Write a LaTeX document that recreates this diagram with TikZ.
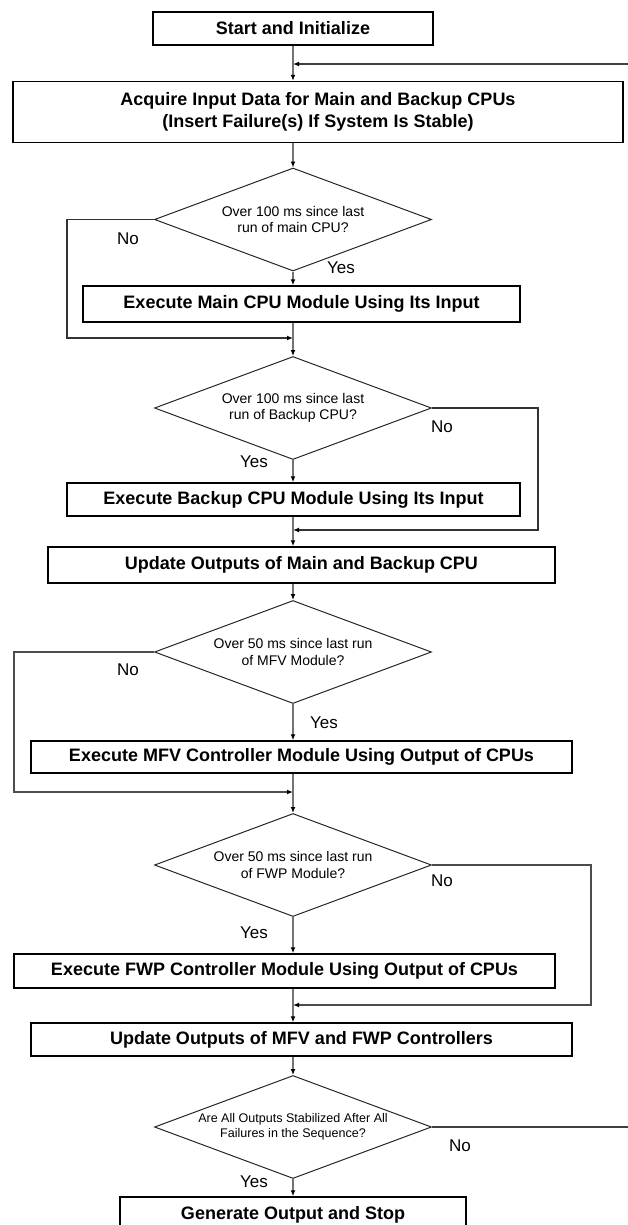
\documentclass[tikz,border=0pt]{standalone}
\usepackage{fontspec}
\setmainfont{Liberation Sans}
\usetikzlibrary{shapes.geometric,arrows.meta,calc}

\tikzset{
  procbox/.style={draw=black, line width=1.1pt, rectangle, inner sep=0pt,
    font=\fontsize{13.5}{16.5}\selectfont\bfseries, align=center},
  checkbox/.style={draw=black!85, line width=0.75pt, diamond, aspect=2.69, inner sep=0pt,
    minimum width=207.75pt, minimum height=77.25pt,
    font=\fontsize{10.5}{12.5}\selectfont, align=center},
  flow/.style={draw=black!55, line width=1.1pt,
    -{Latex[length=4.5pt,width=3.6pt,color=black]}},
  answer/.style={font=\fontsize{12.75}{14}\selectfont, inner sep=0pt},
}

\begin{document}
\begin{tikzpicture}[x=0.75pt,y=0.75pt,yscale=-1,xscale=1]
        \useasboundingbox (0,0) rectangle (628,1225);
        % Process boxes
        \node[procbox, minimum width=210pt, minimum height=24.75pt] (start) at (293,28.5) {Start and Initialize};
        \node[procbox, minimum width=457.5pt, minimum height=45.75pt] (acquire) at (318,112)
            {Acquire Input Data for Main and Backup CPUs\\(Insert Failure(s) If System Is Stable)};
        \node[procbox, minimum width=327.75pt, minimum height=27pt] (execmain) at (301.5,304) {Execute Main CPU Module Using Its Input};
        \node[procbox, minimum width=339.75pt, minimum height=24.75pt] (execbackup) at (293.5,499.5) {Execute Backup CPU Module Using Its Input};
        \node[procbox, minimum width=380.25pt, minimum height=27pt] (updcpu) at (301.5,565) {Update Outputs of Main and Backup CPU};
        \node[procbox, minimum width=405.75pt, minimum height=24pt] (execmfv) at (301.5,757) {Execute MFV Controller Module Using Output of CPUs};
        \node[procbox, minimum width=405.75pt, minimum height=25.5pt] (execfwp) at (284.5,971) {Execute FWP Controller Module Using Output of CPUs};
        \node[procbox, minimum width=405.75pt, minimum height=24.75pt] (updctrl) at (301.5,1039.5) {Update Outputs of MFV and FWP Controllers};
        \node[procbox, minimum width=259.5pt, minimum height=27pt] (stop) at (293,1215) {Generate Output and Stop};
        % Decisions
        \node[checkbox] (d1) at (293,219.5) {Over 100 ms since last\\run of main CPU?};
        \node[checkbox] (d2) at (293,408) {Over 100 ms since last\\run of Backup CPU?};
        \node[checkbox] (d3) at (293,652) {Over 50 ms since last run\\of MFV Module?};
        \node[checkbox] (d4) at (293,865) {Over 50 ms since last run\\of FWP Module?};
        \node[checkbox, font=\fontsize{9.4}{11}\selectfont] (d5) at (293,1127) {Are All Outputs Stabilized After All\\Failures in the Sequence?};
        % Join points
        \coordinate (fb) at (293,64);
        \coordinate (m1) at (293,338);
        \coordinate (m2) at (293,530);
        \coordinate (m3) at (293,792);
        \coordinate (m4) at (293,1005);
        \coordinate (c1) at (67,338);
        \coordinate (c2) at (538,530);
        \coordinate (c3) at (14,792);
        \coordinate (c4) at (591,1005);
        \coordinate (c5) at (640,64);
        % Main line
        \draw[flow] (start.south) -- (start.south |- acquire.north);
        \draw[flow] (d1.north |- acquire.south) -- (d1.north);
        \draw[flow] (d1.south) -- (d1.south |- execmain.north);
        \draw[flow] (d1.south |- execmain.south) -- (d2.north);
        \draw[flow] (d2.south) -- (d2.south |- execbackup.north);
        \draw[flow] (d2.south |- execbackup.south) -- (d2.south |- updcpu.north);
        \draw[flow] (d3.north |- updcpu.south) -- (d3.north);
        \draw[flow] (d3.south) -- (d3.south |- execmfv.north);
        \draw[flow] (d3.south |- execmfv.south) -- (d4.north);
        \draw[flow] (d4.south) -- (d4.south |- execfwp.north);
        \draw[flow] (d4.south |- execfwp.south) -- (d4.south |- updctrl.north);
        \draw[flow] (d5.north |- updctrl.south) -- (d5.north);
        \draw[flow] (d5.south) -- (d5.south |- stop.north);
        % Skip loops
        \draw[flow, draw=black!80] (d1.west) -| (c1) -- (m1);
        \draw[flow, draw=black!80] (d2.east) -| (c2) -- (m2);
        \draw[flow, draw=black!70] (d3.west) -| (c3) -- (m3);
        \draw[flow, draw=black!70] (d4.east) -| (c4) -- (m4);
        \draw[flow, draw=black!75] (d5.east) -| (c5) -- (fb);
        % Text Node
        \node[answer] (no1) at (128,239) {No};
        \node[answer] (yes1) at (341,268) {Yes};
        \node[answer] (no2) at (442,427) {No};
        \node[answer] (yes2) at (254,462) {Yes};
        \node[answer] (no3) at (128,670) {No};
        \node[answer] (yes3) at (324,723) {Yes};
        \node[answer] (no4) at (442,881) {No};
        \node[answer] (yes4) at (254,933) {Yes};
        \node[answer] (no5) at (460,1146) {No};
        \node[answer] (yes5) at (254,1182) {Yes};
\end{tikzpicture}
\end{document}
